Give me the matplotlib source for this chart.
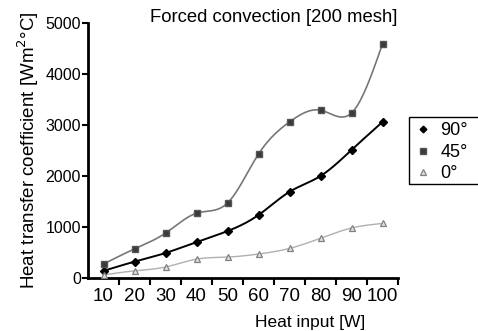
import numpy as np
import matplotlib
matplotlib.use('Agg')
import matplotlib.pyplot as plt
from matplotlib.patches import Rectangle

plt.rcParams['font.family'] = ['Liberation Sans', 'DejaVu Sans']

# data
heat_input = [10, 20, 30, 40, 50, 60, 70, 80, 90, 100]
h_90 = [140, 320, 490, 705, 920, 1235, 1690, 2000, 2510, 3060]
h_45 = [275, 570, 880, 1270, 1470, 2430, 3060, 3290, 3235, 4590]
h_0 = [60, 140, 215, 370, 410, 470, 580, 780, 980, 1070]
series_labels = ['90°', '45°', '0°']


def natural_spline(x, y, n=300):
    """ Natural cubic spline through the points (smooth connecting line) """
    x = np.asarray(x, float)
    y = np.asarray(y, float)
    k = len(x)
    h = np.diff(x)
    A = np.zeros((k, k))
    b = np.zeros(k)
    A[0, 0] = A[-1, -1] = 1
    for i in range(1, k - 1):
        A[i, i - 1] = h[i - 1]
        A[i, i] = 2 * (h[i - 1] + h[i])
        A[i, i + 1] = h[i]
        b[i] = 6 * ((y[i + 1] - y[i]) / h[i] - (y[i] - y[i - 1]) / h[i - 1])
    m = np.linalg.solve(A, b)
    xs = np.linspace(x[0], x[-1], n)
    idx = np.clip(np.searchsorted(x, xs) - 1, 0, k - 2)
    x0, x1 = x[idx], x[idx + 1]
    hh = x1 - x0
    t0, t1 = x1 - xs, xs - x0
    ys = (m[idx] * t0 ** 3 + m[idx + 1] * t1 ** 3) / (6 * hh) \
        + (y[idx] / hh - m[idx] * hh / 6) * t0 \
        + (y[idx + 1] / hh - m[idx + 1] * hh / 6) * t1
    return xs, ys


fig = plt.figure(figsize=(4.78, 3.31), dpi=100)
ax = fig.add_axes([88 / 478, 1 - 278 / 331, 310 / 478, 255 / 331])

styles = [
    (h_90, dict(color='black', lw=1.4),
     dict(marker='D', ms=4, mfc='black', mec='black')),
    (h_45, dict(color='#777777', lw=1.2),
     dict(marker='s', ms=5, mfc='#3a3a3a', mec='#555555')),
    (h_0, dict(color='#b0b0b0', lw=1.0),
     dict(marker='^', ms=5, mfc='#e0e0e0', mec='#808080', mew=0.9)),
]
handles = []
for values, lstyle, mstyle in styles:
    xs, ys = natural_spline(heat_input, values)
    ax.plot(xs, ys, zorder=2, **lstyle)
    h, = ax.plot(heat_input, values, ls='none', zorder=3, **mstyle)
    handles.append(h)

ax.set_xlim(5, 105)
ax.set_ylim(0, 5000)
ax.set_xticks(np.arange(15, 106, 10))
ax.set_xticklabels([])
ax.set_xticks(heat_input, minor=True)
ax.set_xticklabels([str(v) for v in heat_input], minor=True, fontsize=13.5)
ax.tick_params(axis='x', which='minor', length=0, pad=7)
ax.tick_params(axis='x', which='major', length=5, width=1.5)
ax.set_yticks(np.arange(0, 5001, 1000))
ax.tick_params(axis='y', length=4, width=1.5, labelsize=11.5, pad=1)

for side in ['top', 'right']:
    ax.spines[side].set_visible(False)
for side in ['left', 'bottom']:
    ax.spines[side].set_linewidth(2)

ax.set_ylabel('Heat transfer coefficient [Wm$^2$°C]', fontsize=13.5, labelpad=3)
fig.text(310 / 478, 1 - 322 / 331, 'Heat input [W]', fontsize=12.5,
         ha='center', va='center')
fig.text(274 / 478, 1 - 17 / 331, 'Forced convection [200 mesh]',
         fontsize=13.3, ha='center', va='center')

leg = fig.legend(handles, series_labels, loc='upper left',
                 bbox_to_anchor=(409 / 478, 1 - 117 / 331),
                 fontsize=13, frameon=False, markerscale=0.85,
                 handlelength=1.0, handletextpad=0.45, borderpad=0.3,
                 labelspacing=0.25, borderaxespad=0)
# legend frame runs off the right edge in the reference
fig.patches.append(Rectangle((409 / 478, 1 - 184 / 331), 90 / 478, 67 / 331,
                             transform=fig.transFigure, fill=False,
                             edgecolor='black', lw=1))

fig.savefig('out.png', dpi=100)
